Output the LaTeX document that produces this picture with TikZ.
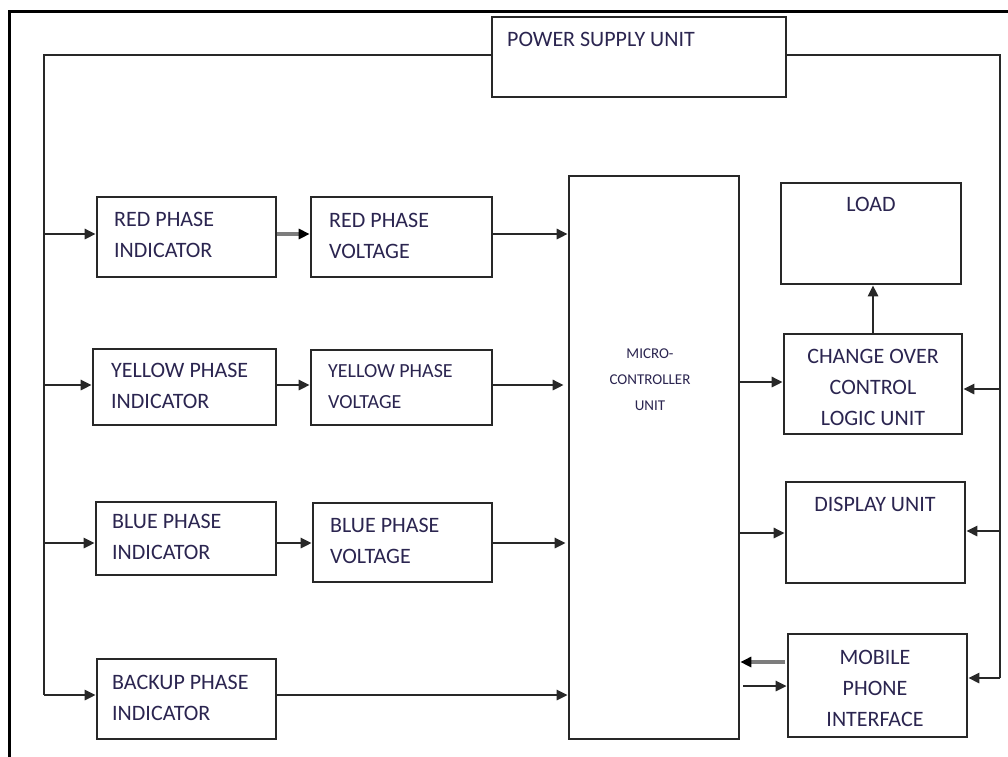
\documentclass[tikz,border=0pt]{standalone}
\usepackage{fontspec}
\setmainfont{Carlito}
\usetikzlibrary{arrows.meta}
\definecolor{txtcol}{RGB}{43,37,80}
\definecolor{wirecol}{RGB}{40,40,40}
\definecolor{greywire}{RGB}{125,125,125}
\tikzset{
  box/.style={draw=wirecol, line width=2.6pt, rectangle, inner sep=0pt},
  wire/.style={draw=wirecol, line width=2.6pt},
  arr/.style={wire, -{Triangle[length=11pt,width=10pt]}},
  garr/.style={draw=greywire, line width=3.2pt, -{Triangle[length=11pt,width=10pt,color=black]}},
  lbl/.style={text=txtcol, inner sep=0pt, font=\fontsize{22}{31}\selectfont},
  lblw/.style={lbl, anchor=north west, align=left},
  lblc/.style={lbl, anchor=north, align=center},
}
\begin{document}
\begin{tikzpicture}[x=1pt,y=-1pt]
\useasboundingbox (0,0) rectangle (1008,756);
\fill[white] (0,0) rectangle (1008,756);
% outer frame
\draw[black, line width=3pt] (9,760) -- (9,11) -- (1010,11);

% boxes
\node[box, minimum width=294pt, minimum height=80pt] (psu) at (639,57) {};
\node[box, minimum width=179pt, minimum height=80pt] (ri) at (186.5,237) {};
\node[box, minimum width=181pt, minimum height=80pt] (rv) at (401.5,237) {};
\node[box, minimum width=183pt, minimum height=76pt] (yi) at (184.5,387) {};
\node[box, minimum width=181pt, minimum height=75pt] (yv) at (401.5,387.5) {};
\node[box, minimum width=180pt, minimum height=73pt] (bi) at (186,538.5) {};
\node[box, minimum width=179pt, minimum height=79pt] (bv) at (402.5,542.5) {};
\node[box, minimum width=179pt, minimum height=80pt] (bk) at (186.5,699) {};
\node[box, minimum width=170pt, minimum height=563pt] (mcu) at (654,457.5) {};
\node[box, minimum width=180pt, minimum height=101pt] (load) at (871,233.5) {};
\node[box, minimum width=178pt, minimum height=100pt] (co) at (873,384) {};
\node[box, minimum width=179pt, minimum height=101pt] (disp) at (875.5,532.5) {};
\node[box, minimum width=179pt, minimum height=103pt] (mob) at (877.5,685.5) {};

% labels
\node[lblw] (tpsu) at (507,32) {POWER SUPPLY UNIT};
\node[lblw] (tri) at (114,212) {RED PHASE\\INDICATOR};
\node[lblw] (trv) at (329,213) {RED PHASE\\VOLTAGE};
\node[lblw] (tyi) at (111,363) {YELLOW PHASE\\INDICATOR};
\node[lblw, font=\fontsize{20}{31}\selectfont] (tyv) at (328,364) {YELLOW PHASE\\VOLTAGE};
\node[lblw] (tbi) at (112,514) {BLUE PHASE\\INDICATOR};
\node[lblw] (tbv) at (330,518) {BLUE PHASE\\VOLTAGE};
\node[lblw] (tbk) at (112,675) {BACKUP PHASE\\INDICATOR};
\node[lblc, font=\fontsize{15}{26}\selectfont] (tmcu) at (650,349) {MICRO-\\CONTROLLER\\UNIT};
\node[lblc] (tload) at (871,197) {LOAD};
\node[lblc] (tco) at (873,349) {CHANGE OVER\\CONTROL\\LOGIC UNIT};
\node[lblc] (tdisp) at (875,497) {DISPLAY UNIT};
\node[lblc] (tmob) at (875,650) {MOBILE\\PHONE\\INTERFACE};

% left supply bus
\coordinate (lt) at (44,55);
\coordinate (lb1) at (44,234);
\coordinate (lb2) at (44,385);
\coordinate (lb3) at (44,543);
\coordinate (lb4) at (44,695);
\draw[wire] (psu.west |- lt) -- (lt) -- (lb4);
\draw[arr] (lb1) -- (lb1 -| ri.west);
\draw[arr] (lb2) -- (lb2 -| yi.west);
\draw[arr] (lb3) -- (lb3 -| bi.west);
\draw[arr] (lb4) -- (lb4 -| bk.west);

% indicator -> voltage
\draw[garr] (ri.east |- lb1) -- (rv.west |- lb1);
\draw[arr] (yi.east |- lb2) -- (yv.west |- lb2);
\draw[arr] (bi.east |- lb3) -- (bv.west |- lb3);

% voltage -> MCU
\draw[arr] (rv.east |- lb1) -- (mcu.west |- lb1);
\draw[arr] ([xshift=-2pt]yv.east |- lb2) -- ([xshift=-4pt]mcu.west |- lb2);
\draw[arr] ([xshift=-2pt]bv.east |- lb3) -- ([xshift=-2pt]mcu.west |- lb3);
\draw[arr] (bk.east |- lb4) -- (mcu.west |- lb4);

% right supply bus
\coordinate (rt) at (1000,55);
\coordinate (rc1) at (1000,389);
\coordinate (rc2) at (1000,531);
\coordinate (rb) at (1000,678);
\draw[wire] (psu.east |- rt) -- (rt) -- (rb);
\draw[arr] (rc1) -- (rc1 -| co.east);
\draw[arr] (rc2) -- (rc2 -| disp.east);
\draw[arr] (rb) -- (rb -| mob.east);

% MCU -> outputs
\coordinate (m1) at (739,382);
\coordinate (m2) at (739,533);
\coordinate (m3) at (743,686);
\coordinate (m4) at (785,662);
\draw[arr] (m1) -- (m1 -| co.west);
\draw[arr] (m2) -- (m2 -| disp.west);
\draw[arr] (m3) -- (m3 -| mob.west);
\draw[garr] (m4) -- (m4 -| mcu.east);
\draw[arr] (co.north) -- (co.north |- load.south);
\end{tikzpicture}
\end{document}
